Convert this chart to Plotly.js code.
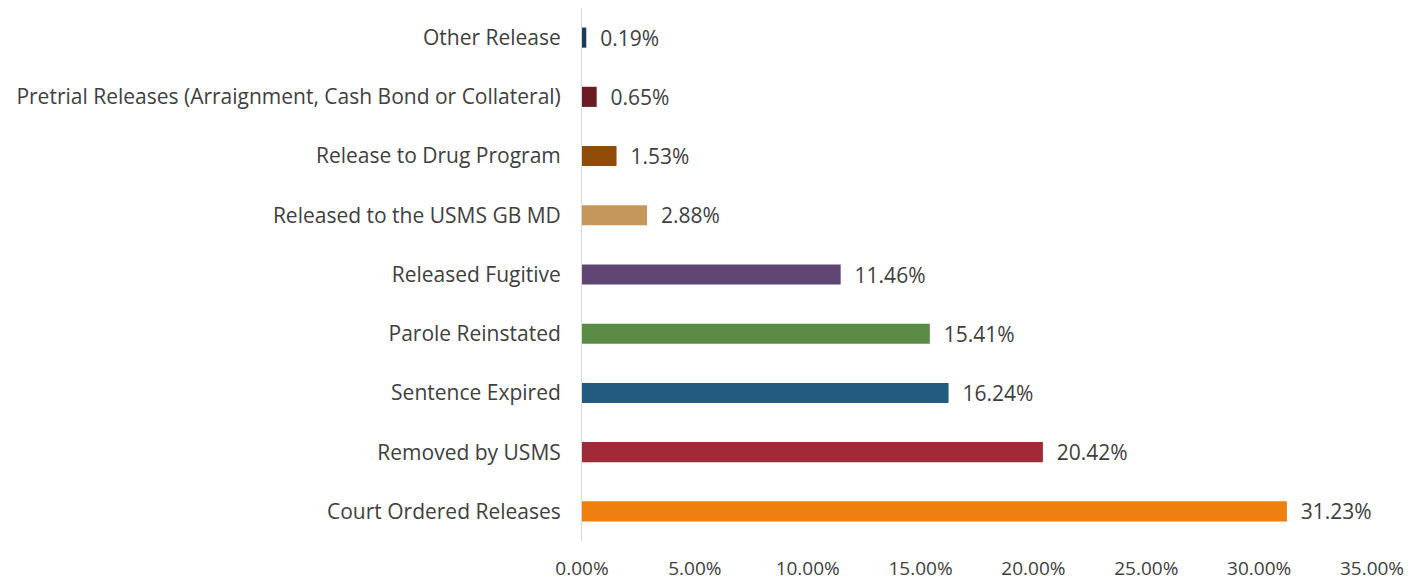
<!DOCTYPE html>
<html><head><meta charset="utf-8">
<script src="https://cdn.plot.ly/plotly-3.0.1.min.js"></script>
<style>html,body{margin:0;padding:0;background:#fff;}#chart{width:1414px;height:582px;}</style>
</head><body><div id="chart"></div>
<script>
const categories = ["Court Ordered Releases","Removed by USMS","Sentence Expired","Parole Reinstated","Released Fugitive","Released to the USMS GB MD","Release to Drug Program","Pretrial Releases (Arraignment, Cash Bond or Collateral)","Other Release"];
const values = [31.23,20.42,16.24,15.41,11.46,2.88,1.53,0.65,0.19];
const colors = ["#ef7f0e","#a02a37","#235a80","#5a8c46","#5f4675","#c6975a","#924c0a","#6b1c23","#1f3b57"];
const tickVals = [0,5,10,15,20,25,30,35];
const tickText = tickVals.map(v => v.toFixed(2) + "%");

const FONT = "Open Sans, sans-serif";
const trace = {
  type: "bar", orientation: "h",
  y: categories, x: values,
  marker: {color: colors},
  width: 0.34,
  text: values.map(v => "  " + v.toFixed(2) + "%"),
  textposition: "outside",
  constraintext: "none",
  cliponaxis: false,
  textfont: {family: FONT, size: 21, color: "#404040"},
  hoverinfo: "none"
};
const layout = {
  width: 1414, height: 582,
  margin: {l: 582, r: 42, t: 8, b: 41},
  paper_bgcolor: "#fff", plot_bgcolor: "#fff",
  showlegend: false,
  font: {family: FONT, size: 19, color: "#404040"},
  xaxis: {range: [0, 35], tickvals: tickVals, ticktext: tickText, showgrid: false, zeroline: false,
          showline: false, ticks: "", ticklabelstandoff: 14, tickfont: {size: 19, color: "#404040"}, automargin: false, fixedrange: true},
  yaxis: {type: "category", showgrid: false, zeroline: false, showline: true, linecolor: "#d9d9d9", linewidth: 1,
          ticks: "", ticklabelstandoff: 16, tickfont: {size: 21, color: "#404040"}, automargin: false, fixedrange: true},
  bargap: 0.66
};
Plotly.newPlot("chart", [trace], layout, {displayModeBar: false, staticPlot: true});
</script></body></html>
